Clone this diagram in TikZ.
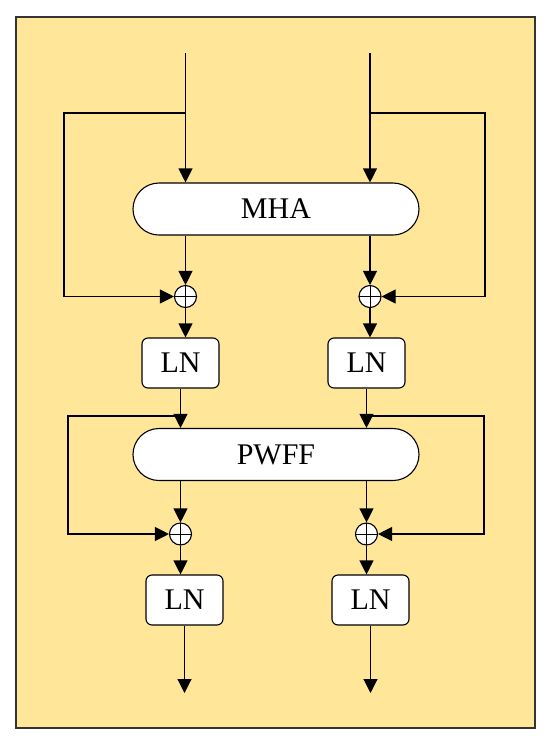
\documentclass[tikz,border=0pt]{standalone}
\usepackage{fontspec}
\setmainfont{Liberation Serif}
\usetikzlibrary{arrows.meta,shapes.misc}
\definecolor{bgyellow}{HTML}{FFE699}
\begin{document}
\begin{tikzpicture}[x=1pt,y=-1pt,
  line width=1.1pt,
  arr/.style={-{Triangle[length=14pt,width=14pt]}},
  pill/.style={draw, fill=white, rounded rectangle, minimum width=286pt, minimum height=52pt, inner sep=0pt, font=\fontsize{30}{34}\selectfont},
  lnbox/.style={draw, fill=white, rounded corners=6pt, minimum width=77pt, minimum height=50pt, inner sep=0pt, font=\fontsize{30}{34}\selectfont},
  addop/.style={draw, fill=white, circle, minimum size=22pt, inner sep=0pt,
    path picture={\draw[line width=0.8pt] (path picture bounding box.north) -- (path picture bounding box.south) (path picture bounding box.west) -- (path picture bounding box.east);}}
]
\useasboundingbox (0,0) rectangle (550,748);
\draw[fill=bgyellow, draw=black!80, line width=1.5pt] (16,17) rectangle (535,728);

\node[pill] (mha) at (276,209) {MHA};
\node[pill] (pwff) at (276,454.5) {PWFF};
\node[addop] (p1L) at (185.5,296.5) {};
\node[addop] (p1R) at (370,296.5) {};
\node[lnbox] (ln1L) at (180.5,363) {LN};
\node[lnbox] (ln1R) at (366.5,363) {LN};
\node[addop] (p2L) at (180.5,534) {};
\node[addop] (p2R) at (366.5,534) {};
\node[lnbox] (ln2L) at (184.5,600) {LN};
\node[lnbox] (ln2R) at (370.5,600) {LN};

\coordinate (inL) at (185.5,53);
\coordinate (inR) at (370,53);
\coordinate (brL) at (185.5,113);
\coordinate (brR) at (370,113);
\coordinate (lpL) at (64,113);
\coordinate (lpR) at (485,113);
\coordinate (br2L) at (180.5,416);
\coordinate (br2R) at (366.5,416);
\coordinate (lp2L) at (68,416);
\coordinate (lp2R) at (484,416);
\coordinate (outL) at (184.5,693);
\coordinate (outR) at (370.5,693);

% top block
\draw[arr] (inL) -- (inL |- mha.north);
\draw[arr] (inR) -- (inR |- mha.north);
\draw[arr] (brL) -- (lpL) |- (p1L.west);
\draw[arr] (brR) -- (lpR) |- (p1R.east);
\draw[arr] (p1L |- mha.south) -- (p1L.north);
\draw[arr] (p1R |- mha.south) -- (p1R.north);
\draw[arr] (p1L.south) -- (p1L |- ln1L.north);
\draw[arr] (p1R.south) -- (p1R |- ln1R.north);

% middle block
\draw[arr] (ln1L.south) -- (ln1L.south |- pwff.north);
\draw[arr] (ln1R.south) -- (ln1R.south |- pwff.north);
\draw[arr] (br2L) -- (lp2L) |- (p2L.west);
\draw[arr] (br2R) -- (lp2R) |- (p2R.east);
\draw[arr] (p2L |- pwff.south) -- (p2L.north);
\draw[arr] (p2R |- pwff.south) -- (p2R.north);
\draw[arr] (p2L.south) -- (p2L |- ln2L.north);
\draw[arr] (p2R.south) -- (p2R |- ln2R.north);

% outputs
\draw[arr] (ln2L.south) -- (outL);
\draw[arr] (ln2R.south) -- (outR);
\end{tikzpicture}
\end{document}
